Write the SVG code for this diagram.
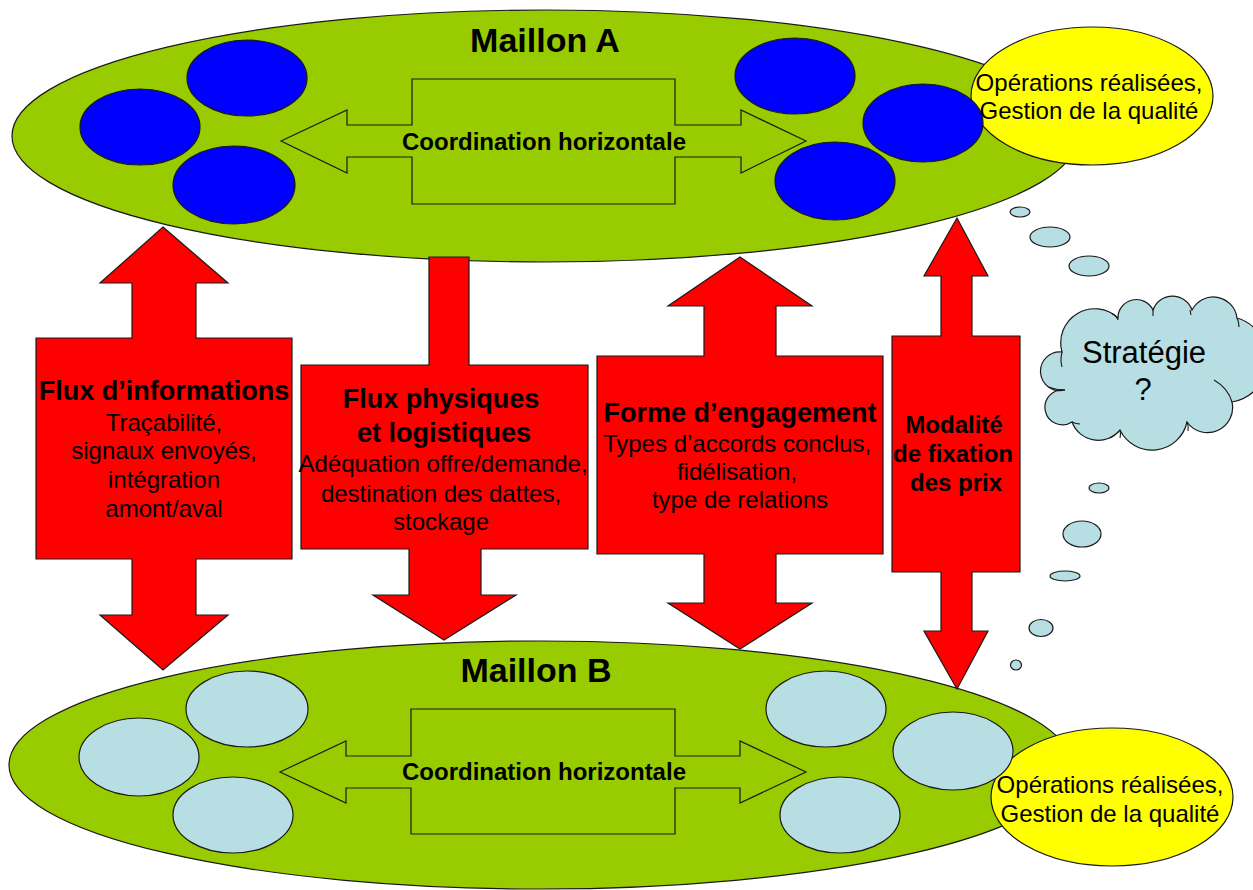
<svg xmlns="http://www.w3.org/2000/svg" width="1253" height="890" viewBox="0 0 1253 890">
  <style>
    .link { fill: #99CC00; stroke: #1a1a1a; stroke-width: 1.2; }
    .actorA { fill: #0000FF; stroke: #1a1a1a; stroke-width: 1.2; }
    .actorB { fill: #B7DEE3; stroke: #1a1a1a; stroke-width: 1.2; }
    .ops { fill: #FFFF00; stroke: #1a1a1a; stroke-width: 1.2; }
    .coord { fill: none; stroke: #1a1a1a; stroke-width: 1.2; }
    .flow { fill: #FF0000; stroke: #1a1a1a; stroke-width: 1.2; }
    .bubble { fill: #B7DEE3; stroke: #1a1a1a; stroke-width: 1.2; }
    .puff { fill: none; stroke: #1a1a1a; stroke-width: 1.1; }
    text { font-family: "Liberation Sans", Arial, sans-serif; fill: #000; text-anchor: middle; }
    .title { font-size: 34px; font-weight: bold; }
    .coordtxt { font-size: 24px; font-weight: bold; }
    .head { font-size: 27px; font-weight: bold; }
    .body { font-size: 24px; }
    .opstxt { font-size: 24px; }
    .bold24 { font-size: 24px; font-weight: bold; }
    .cloudtxt { font-size: 31px; }
  </style>

  <!-- Link A (upstream) -->
  <g id="maillon-a">
    <ellipse class="link" cx="545" cy="136" rx="533" ry="126"/>
    <ellipse class="ops" cx="1092" cy="96" rx="121" ry="69"/>
    <ellipse class="actorA" cx="247" cy="78" rx="60" ry="38"/>
    <ellipse class="actorA" cx="140" cy="127" rx="60" ry="38"/>
    <ellipse class="actorA" cx="234" cy="185" rx="61" ry="39"/>
    <ellipse class="actorA" cx="795" cy="76" rx="60" ry="38"/>
    <ellipse class="actorA" cx="923" cy="123" rx="60" ry="39"/>
    <ellipse class="actorA" cx="835" cy="181" rx="60" ry="39"/>
    <path class="coord" d="M281,141 L347,110 L347,125 L412,125 L412,79 L675,79 L675,125 L741,125 L741,110 L806,141 L741,173 L741,157 L675,157 L675,204 L412,204 L412,157 L347,157 L347,173 Z"/>
    <text class="title" x="545" y="52">Maillon A</text>
    <text class="coordtxt" x="544" y="150">Coordination horizontale</text>
    <text class="opstxt" x="1089" y="91">Opérations réalisées,</text>
    <text class="opstxt" x="1089" y="119">Gestion de la qualité</text>
  </g>

  <!-- Link B (downstream) -->
  <g id="maillon-b">
    <ellipse class="link" cx="540" cy="765" rx="531" ry="124"/>
    <ellipse class="ops" cx="1112" cy="797" rx="121" ry="69"/>
    <ellipse class="actorB" cx="247" cy="709" rx="61" ry="38"/>
    <ellipse class="actorB" cx="139" cy="757" rx="60" ry="39"/>
    <ellipse class="actorB" cx="233" cy="815" rx="60" ry="38"/>
    <ellipse class="actorB" cx="826" cy="709" rx="60" ry="38"/>
    <ellipse class="actorB" cx="953" cy="751" rx="60" ry="39"/>
    <ellipse class="actorB" cx="840" cy="815" rx="60" ry="38"/>
    <path class="coord" d="M280,772 L346,741 L346,756 L411,756 L411,709 L675,709 L675,756 L740,756 L740,741 L806,772 L740,803 L740,788 L675,788 L675,834 L411,834 L411,788 L346,788 L346,803 Z"/>
    <text class="title" x="536" y="682">Maillon B</text>
    <text class="coordtxt" x="544" y="780">Coordination horizontale</text>
    <text class="opstxt" x="1110" y="793">Opérations réalisées,</text>
    <text class="opstxt" x="1110" y="822">Gestion de la qualité</text>
  </g>

  <!-- Strategy thought cloud -->
  <g id="strategie">
    <ellipse class="bubble" cx="1020" cy="212" rx="10" ry="5"/>
    <ellipse class="bubble" cx="1050" cy="237" rx="20" ry="10"/>
    <ellipse class="bubble" cx="1089" cy="266" rx="20" ry="10"/>
    <ellipse class="bubble" cx="1099" cy="488" rx="10" ry="5"/>
    <ellipse class="bubble" cx="1082" cy="534" rx="19" ry="13"/>
    <ellipse class="bubble" cx="1065" cy="576" rx="15" ry="5"/>
    <ellipse class="bubble" cx="1041" cy="628" rx="12" ry="8.5"/>
    <ellipse class="bubble" cx="1016" cy="665" rx="5.5" ry="5"/>
    <path class="bubble" d="M1062,352 A34,34 0 0 1 1118,318 A18.4,18.4 0 0 1 1153,310 A20.6,20.6 0 0 1 1192,310 A23.9,23.9 0 0 1 1237,318 A43.2,43.2 0 0 1 1232,402 A25.1,25.1 0 0 1 1187,422 A35.7,35.7 0 0 1 1120,430 A28,28 0 0 1 1072,422 A17.5,17.5 0 1 1 1065,390 A19.4,19.4 0 1 1 1062,352 Z"/>
    <path class="puff" d="M1062,352 Q1060,360 1062,367 M1112,314 Q1116,315 1118,320 M1153,310 L1153,316 M1190,310 L1191,315 M1237,318 Q1239,322 1239,327 M1232,402 Q1228,388 1214,380 M1187,422 Q1189,426 1188,431 M1120,430 Q1121,434 1120,438 M1072,422 Q1076,424 1080,424 M1065,390 Q1056,390 1049,387"/>
    <text class="cloudtxt" x="1144" y="363">Stratégie</text>
    <text class="cloudtxt" x="1143" y="400">?</text>
  </g>

  <!-- Flows between the two links -->
  <g id="connectors">
    <g id="flux-informations">
      <path class="flow" d="M163,227 L228,283 L196,283 L196,338 L292,338 L292,559 L196,559 L196,615 L228,615 L163,670 L100,615 L132,615 L132,559 L36,559 L36,338 L132,338 L132,283 L100,283 Z"/>
      <text class="head" x="164" y="400">Flux d’informations</text>
      <text class="body" x="164" y="431">Traçabilité,</text>
      <text class="body" x="164" y="459">signaux envoyés,</text>
      <text class="body" x="164" y="488">intégration</text>
      <text class="body" x="164" y="517">amont/aval</text>
    </g>
    <g id="flux-physiques">
      <path class="flow" d="M429,257 L469,257 L469,365 L588,365 L588,549 L481,549 L481,595 L516,595 L444,640 L373,595 L409,595 L409,549 L301,549 L301,365 L429,365 Z"/>
      <text class="head" x="441" y="408">Flux physiques</text>
      <text class="head" x="444" y="442">et logistiques</text>
      <text class="body" x="443" y="472">Adéquation offre/demande,</text>
      <text class="body" x="441" y="502">destination des dattes,</text>
      <text class="body" x="441" y="530">stockage</text>
    </g>
    <g id="forme-engagement">
      <path class="flow" d="M740,257 L812,306 L776,306 L776,356 L883,356 L883,554 L776,554 L776,603 L812,603 L740,649 L668,603 L704,603 L704,554 L597,554 L597,356 L704,356 L704,306 L668,306 Z"/>
      <text class="head" x="740" y="422">Forme d’engagement</text>
      <text class="body" x="737" y="452">Types d’accords conclus,</text>
      <text class="body" x="737" y="480">fidélisation,</text>
      <text class="body" x="740" y="508">type de relations</text>
    </g>
    <g id="fixation-prix">
      <path class="flow" d="M957,218 L988,276 L972,276 L972,336 L1020,336 L1020,572 L972,572 L972,631 L988,631 L957,689 L924,631 L941,631 L941,572 L892,572 L892,336 L941,336 L941,276 L924,276 Z"/>
      <text class="bold24" x="954" y="433">Modalité</text>
      <text class="bold24" x="953" y="462">de fixation</text>
      <text class="bold24" x="956" y="491">des prix</text>
    </g>
  </g>
</svg>
